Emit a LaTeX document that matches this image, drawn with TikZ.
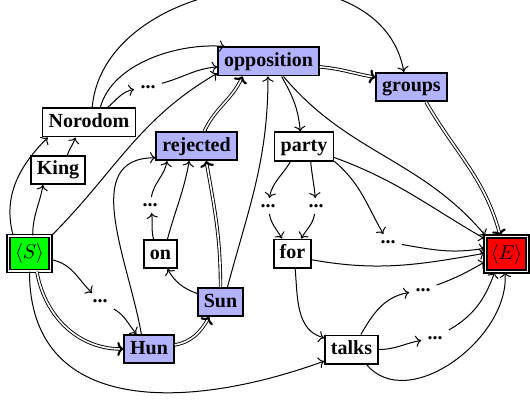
\documentclass[tikz,border=0pt]{standalone}
\usepackage{fontspec}
\setmainfont{Liberation Serif}
\usetikzlibrary{arrows.meta}

\begin{document}
\begin{tikzpicture}[x=0.5pt, y=0.5pt,
  word/.style={rectangle, draw, line width=0.8pt, font=\bfseries, text height=7pt, text depth=2pt, inner xsep=3pt, inner ysep=2.6pt},
  best/.style={word, fill=blue!30},
  gap/.style={font=\bfseries, inner sep=3pt},
  ends/.style={rectangle, draw, double, line width=0.7pt, double distance=0.7pt, minimum width=21pt, minimum height=17.5pt, inner sep=1pt},
  link/.style={->, line width=0.5pt},
  bestlink/.style={-{To[line width=1.1pt, length=3pt, width=7pt]}, line width=0.45pt, double, double distance=0.8pt}]
  \useasboundingbox (0, 0) rectangle (530, -401);
  % Nodes
  \node (start) [ends, fill=green] at (29.5, -253.5) {$\langle S\rangle$};
  \node (end) [ends, fill=red] at (506.5, -254) {$\langle E\rangle$};
  \node (king) [word] at (58, -170) {King};
  \node (norodom) [word] at (89, -122.5) {Norodom};
  \node (opposition) [best] at (268.5, -61.5) {opposition};
  \node (groups) [best] at (411.5, -87) {groups};
  \node (rejected) [best] at (196.5, -146) {rejected};
  \node (party) [word] at (304, -146.5) {party};
  \node (for) [word] at (292.5, -253.5) {for};
  \node (on) [word] at (160.5, -254) {on};
  \node (sun) [best] at (220.5, -302) {Sun};
  \node (hun) [best] at (149, -349) {Hun};
  \node (talks) [word] at (351.5, -349.5) {talks};
  \node (gap-norodom) [gap] at (148, -87) {...};
  \node (gap-on) [gap] at (150, -205) {...};
  \node (gap-start) [gap] at (100, -301) {...};
  \node (gap-party-l) [gap] at (268, -206) {...};
  \node (gap-party-r) [gap] at (316, -206) {...};
  \node (gap-party) [gap] at (388, -242) {...};
  \node (gap-talks-u) [gap] at (423, -290) {...};
  \node (gap-talks-r) [gap] at (435, -338) {...};
  % Arrows
  \draw[link] (start.80) to[out=90, in=-100] (king.-135);
  \draw[link] (start.132) to[out=105, in=-135] (norodom.-160);
  \draw[link] (king.58) to[out=70, in=-110] (norodom.-132);
  \draw[link] (start.39) to[out=45, in=-150] (opposition.-167);
  \draw[link] (norodom.53) to[out=75, in=175, looseness=0.85] (opposition.161);
  \draw[link] (norodom.78) to[out=85, in=100, looseness=1.1] (groups.117);
  \draw[link] (norodom.39) to[out=40, in=190] (gap-norodom);
  \draw[link] (gap-norodom) to[out=15, in=185] (opposition.-174);
  \draw[bestlink] (rejected.62) to[out=65, in=-115] (opposition.-150);
  \draw[bestlink] (sun.90) to[out=90, in=-80] (rejected.-57);
  \draw[link] (sun.65) to[out=75, in=-90] (opposition.-92);
  \draw[link] (sun.160) to[out=160, in=-60] (on.-65);
  \draw[link] (on.115) to[out=105, in=-80] (gap-on);
  \draw[link] (on.65) to[out=75, in=-100] (rejected.-116);
  \draw[link] (gap-on) to[out=80, in=-100] (rejected.-153);
  \draw[link] (hun.117) to[out=100, in=180, looseness=1.1] (rejected.-164);
  \draw[link] (start.-16) to[out=-10, in=135] (gap-start);
  \draw[link] (gap-start) to[out=-30, in=130] (hun.130);
  \draw[bestlink] (start.-68) to[out=-80, in=180] (hun.west);
  \draw[bestlink] (hun.9) to[out=10, in=-120] (sun.-127);
  \draw[link] (start.-90) to[out=-90, in=200, looseness=1.2] (talks.-157);
  \draw[link] (opposition.-49) to[out=-60, in=95] (party.104);
  \draw[bestlink] (opposition.-6) to[out=-5, in=170] (groups.165);
  \draw[bestlink] (groups.-46) to[out=-60, in=105] (end.109);
  \draw[link] (opposition.-45) to[out=-50, in=130] (end.139);
  \draw[link] (party.-20) to[out=-20, in=150] (end.145);
  \draw[link] (party.-132) to[out=-120, in=80] (gap-party-l);
  \draw[link] (party.-66) to[out=-85, in=95] (gap-party-r);
  \draw[link] (party.-26) to[out=-40, in=120] (gap-party);
  \draw[link] (gap-party-l) to[out=-80, in=120] (for.125);
  \draw[link] (gap-party-r) to[out=-100, in=60] (for.60);
  \draw[link] (gap-party) to[out=-10, in=190] (end.165);
  \draw[link] (for.-18) to[out=-10, in=190] (end.178);
  \draw[link] (for.-80) to[out=-85, in=165] (talks.157);
  \draw[link] (talks.58) to[out=60, in=190] (gap-talks-u);
  \draw[link] (gap-talks-u) to[out=20, in=210] (end.-160);
  \draw[link] (talks.east) to[out=0, in=190] (gap-talks-r);
  \draw[link] (gap-talks-r) to[out=30, in=-110] (end.-123);
  \draw[link] (talks.-45) to[out=-50, in=-85] (end.-95);
\end{tikzpicture}
\end{document}
